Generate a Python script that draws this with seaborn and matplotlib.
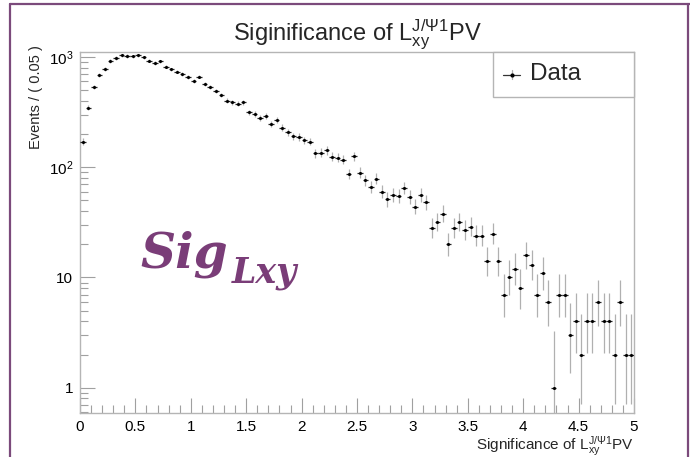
import math
import numpy as np
import matplotlib
matplotlib.use("Agg")
import matplotlib.pyplot as plt
import seaborn as sns
from matplotlib.lines import Line2D
from matplotlib.patches import Rectangle
from matplotlib.ticker import FixedLocator, NullFormatter

# ---------------- data ----------------
x_min, x_max, bin_width = 0.0, 5.0, 0.05
counts = [171, 348, 535, 687, 778, 920, 980, 1036, 1021, 1015,
          1042, 994, 926, 883, 914, 817, 773, 736, 706, 659,
          611, 664, 570, 532, 492, 453, 402, 388, 377, 388,
          315, 303, 278, 290, 246, 269, 229, 208, 191, 188,
          175, 171, 134, 136, 142, 124, 122, 117, 87, 126,
          89, 76, 66, 79, 60, 51, 56, 55, 65, 54,
          44, 56, 48, 28, 32, 38, 20, 28, 32, 27,
          29, 24, 24, 14, 25, 14, 7, 10, 12, 8,
          16, 13, 7, 11, 6, 1, 7, 7, 3, 4,
          2, 4, 4, 6, 4, 4, 2, 6, 2, 2]
y_ticks = [1, 10, 100, 1000]
y_tick_labels = ["1", "10", r"$10^{2}$", r"$10^{3}$"]
x_ticks = [0, 0.5, 1, 1.5, 2, 2.5, 3, 3.5, 4, 4.5, 5]
x_tick_labels = ["0", "0.5", "1", "1.5", "2", "2.5", "3", "3.5", "4", "4.5", "5"]
title = r"Siginificance of L$_{\mathrm{xy}}^{\mathrm{J/\Psi1}}$PV"
x_label = r"Significance of L$_{\mathrm{xy}}^{\mathrm{J/\Psi1}}$PV"
y_label = "Events / ( 0.05 )"
legend_label = "Data"

# ---------------- Poisson (Garwood) intervals ----------------
def _log_cdf(k, mu):
    i = np.arange(k + 1)
    lt = -mu + i * math.log(mu) - np.array([math.lgamma(v + 1) for v in i])
    m = lt.max()
    return m + math.log(np.exp(lt - m).sum())

def _solve(k, target, lo, hi):
    lt = math.log(target)
    for _ in range(70):
        mid = 0.5 * (lo + hi)
        if _log_cdf(k, mid) > lt:
            lo = mid
        else:
            hi = mid
    return 0.5 * (lo + hi)

alpha = 0.158655
err_lo, err_hi = [], []
for n in counts:
    hi = _solve(n, alpha, 1e-9, n + 10 * math.sqrt(n + 1) + 10)
    lo = 0.0 if n == 0 else _solve(n - 1, 1 - alpha, 1e-9, n + 5)
    err_lo.append(n - lo)
    err_hi.append(hi - n)

centers = x_min + bin_width * (np.arange(len(counts)) + 0.5)

# ---------------- style ----------------
sns.set_theme(style="white")
plt.rcParams["font.family"] = ["Liberation Sans", "DejaVu Sans"]
plt.rcParams["mathtext.fontset"] = "custom"
plt.rcParams["mathtext.rm"] = "Liberation Sans"
plt.rcParams["mathtext.it"] = "Liberation Sans:italic"
plt.rcParams["mathtext.bf"] = "Liberation Sans:bold"

W, H = 690, 457
fig = plt.figure(figsize=(W / 100, H / 100), dpi=100)
fig.patch.set_facecolor("white")
ax = fig.add_axes([80 / W, 1 - 413 / H, (634 - 80) / W, (413 - 52) / H])

# error bars
ax.errorbar(centers, counts, yerr=[err_lo, err_hi], fmt="none",
            ecolor="#b0b0b0", elinewidth=0.9, capsize=0, zorder=2)
ax.errorbar(centers, counts, xerr=bin_width / 2, fmt="none",
            ecolor="#222222", elinewidth=0.9, capsize=0, zorder=3)
sns.scatterplot(x=centers, y=counts, color="black", s=5, marker="o",
                linewidth=0, ax=ax, zorder=4, legend=False)

ax.set_yscale("log")
ax.set_xlim(x_min, x_max)
ax.set_ylim(0.59, 1110)

ax.xaxis.set_major_locator(FixedLocator(x_ticks))
ax.set_xticklabels(x_tick_labels)
ax.xaxis.set_minor_locator(FixedLocator(np.round(np.arange(0, 5.001, 0.1), 3)))
ax.xaxis.set_minor_formatter(NullFormatter())
ax.yaxis.set_major_locator(FixedLocator(y_ticks))
ax.set_yticklabels(y_tick_labels)
minor_y = [m * d for d in (0.1, 1, 10, 100, 1000) for m in range(2, 10)]
ax.yaxis.set_minor_locator(FixedLocator(minor_y))
ax.yaxis.set_minor_formatter(NullFormatter())

ax.tick_params(which="major", direction="in", length=11, width=0.8,
               color="#a0a0a0", labelsize=11, labelcolor="black",
               bottom=True, left=True, top=False, right=False)
ax.tick_params(axis="x", which="major", pad=5)
ax.tick_params(axis="y", which="major", pad=5)
ax.tick_params(which="minor", direction="in", length=6, width=0.8,
               color="#a0a0a0", bottom=True, left=True, top=False, right=False)
for s in ax.spines.values():
    s.set_color("#b5b5b5")
    s.set_linewidth(1.0)

ax.set_xlabel(x_label, fontsize=11, ha="right", x=1.0, labelpad=0)
ax.set_ylabel(y_label, fontsize=10.5, ha="right", y=1.02, labelpad=4)
ax.set_title(title, fontsize=17, pad=7)

# legend box (shares the frame's top-right corner)
lx0, ly0, lx1, ly1 = 493 / W, 1 - 97 / H, 634 / W, 1 - 52 / H
fig.add_artist(Rectangle((lx0, ly0), lx1 - lx0, ly1 - ly0, transform=fig.transFigure,
                         facecolor="white", edgecolor="#b5b5b5", lw=1.0, zorder=5))
ym = (ly0 + ly1) / 2
fig.add_artist(Line2D([503 / W, 520 / W], [ym, ym], transform=fig.transFigure,
                      color="#333333", lw=0.9, zorder=6))
fig.add_artist(Line2D([511.5 / W, 511.5 / W], [ym - 5 / H, ym + 5 / H],
                      transform=fig.transFigure, color="#b0b0b0", lw=0.9, zorder=6))
fig.add_artist(Line2D([511.5 / W], [ym], transform=fig.transFigure, marker="o",
                      markersize=2, color="black", zorder=7))
fig.text(530 / W, ym, legend_label, fontsize=17.5, va="center", ha="left", zorder=7)

# big annotation
purple = "#7a3d78"
fig.text(140 / W, 1 - 267 / H, "Sig", fontsize=35, color=purple,
         family=["DejaVu Serif"], style="italic", weight="bold")
fig.text(232 / W, 1 - 283 / H, "Lxy", fontsize=25, color=purple,
         family=["DejaVu Serif"], style="italic", weight="bold")

# outer purple border
for xs, ys in (([10 / W, 10 / W], [0, 1 - 4 / H]),
               ([10 / W, 1], [1 - 4 / H, 1 - 4 / H]),
               ([688 / W, 688 / W], [0, 1 - 4 / H])):
    fig.add_artist(Line2D(xs, ys, transform=fig.transFigure, color="#7b4a7b", lw=1.6))

fig.savefig("out.png", dpi=100, facecolor="white")
